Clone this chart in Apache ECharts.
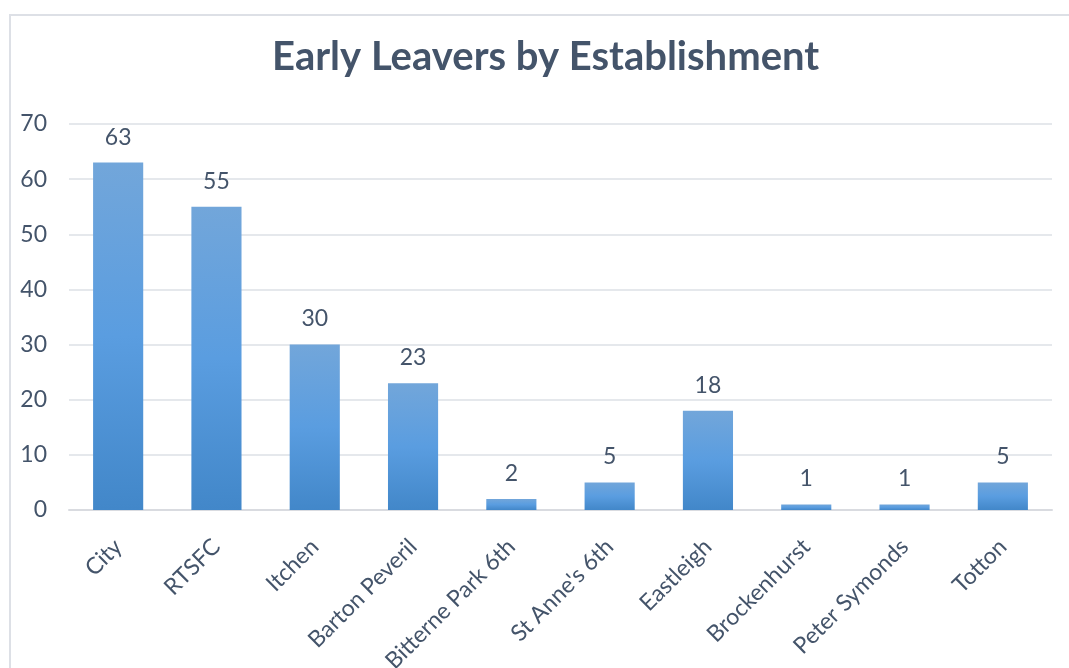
<!DOCTYPE html>
<html>
<head>
<meta charset="utf-8">
<script src="https://cdn.jsdelivr.net/npm/echarts@6/dist/echarts.min.js"></script>
<style>html,body{margin:0;padding:0;background:#fff}#c{width:1069px;height:668px}</style>
</head>
<body>
<div id="c"></div>
<script>
const categories = ["City","RTSFC","Itchen","Barton Peveril","Bitterne Park 6th","St Anne's 6th","Eastleigh","Brockenhurst","Peter Symonds","Totton"];
const values = [63,55,30,23,2,5,18,1,1,5];
const yTicks = {min:0,max:70,interval:10};

const chart = echarts.init(document.getElementById('c'));
const textColor = '#44546A';
chart.setOption({
  animation:false,
  graphic:[{type:'rect',shape:{x:10,y:15,width:1080,height:700},style:{fill:'none',stroke:'#DDE0E6',lineWidth:2},silent:true}],
  title:{text:'Early Leavers by Establishment',left:267,top:32,
    textStyle:{fontFamily:'Lato',fontWeight:'bold',fontSize:40,color:textColor}},
  grid:{left:69,right:17,top:124,bottom:158,containLabel:false,outerBoundsMode:'none'},
  xAxis:{type:'category',data:categories,
    axisLine:{show:true,lineStyle:{color:'#D9DBE0',width:2}},
    axisTick:{show:false},
    axisLabel:{rotate:45,margin:33,fontFamily:'Lato',fontSize:23,color:textColor,interval:0}},
  yAxis:{type:'value',min:yTicks.min,max:yTicks.max,interval:yTicks.interval,
    axisLine:{show:false},axisTick:{show:false},
    splitLine:{lineStyle:{color:'#DDE0E6',width:1.5}},
    axisLabel:{margin:22,fontFamily:'Lato',fontSize:23,color:textColor}},
  series:[{type:'bar',data:values,barWidth:'51%',
    itemStyle:{color:new echarts.graphic.LinearGradient(0,0,0,1,[
      {offset:0,color:'#72A6DA'},{offset:0.5,color:'#5A9DE0'},{offset:1,color:'#4287C9'}])},
    label:{show:true,position:'top',distance:14,fontFamily:'Lato',fontSize:23,color:textColor}}]
});
</script>
</body>
</html>
